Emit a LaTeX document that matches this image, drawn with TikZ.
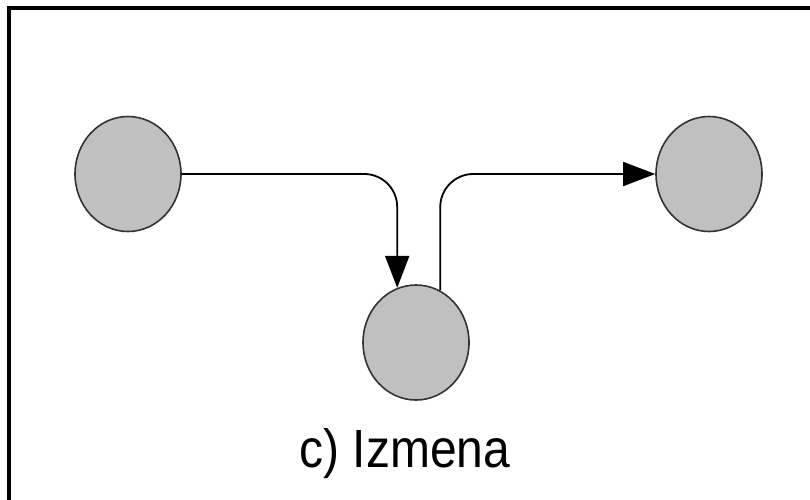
\documentclass[tikz,border=0pt]{standalone}
\usepackage{fontspec}
\setmainfont{Liberation Sans}
\usetikzlibrary{positioning, shapes.geometric, arrows.meta}
\definecolor{stateFill}{HTML}{C0C0C0}
\definecolor{stateLine}{HTML}{333333}

\begin{document}
\begin{tikzpicture}[x=1pt, y=-1pt,
  state/.style={ellipse, draw=stateLine, line width=1.6pt, fill=stateFill,
    minimum width=106pt, minimum height=115pt, inner sep=0pt},
  arr/.style={-{Triangle[length=32pt, width=24pt]}, black, line width=1.8pt,
    rounded corners=33pt},
  frame/.style={draw=black, line width=4pt}]

\clip (0,0) rectangle (810,499);
\draw[frame] (8.5,8) rectangle (900,600);

\node[state] (src) at (128,174) {};
\node[state] (dst) at (709,174) {};
\node[state] (mid) at (416,342.5) {};

\draw[arr] (src.east) -| (mid.109);
\draw[arr] (mid.65) |- (dst.west);

\node[anchor=base, inner sep=0pt, font=\fontsize{48}{56}\selectfont] (cap) at (405,467)
  {\scalebox{1}[1.12]{c) Izmena}};
\end{tikzpicture}
\end{document}
